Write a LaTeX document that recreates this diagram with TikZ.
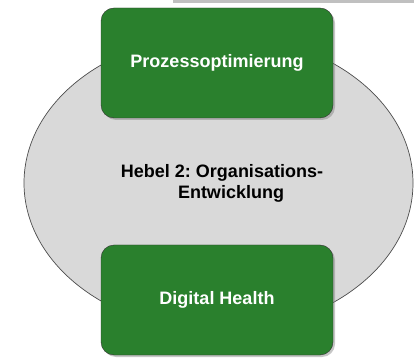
\documentclass[tikz,border=0pt]{standalone}
\usepackage{fontspec}
\setmainfont{Liberation Sans}
\usepackage{tikz}
\usetikzlibrary{positioning,shapes.geometric,shadows}

\definecolor{hebelgreen}{RGB}{42,128,45}
\definecolor{hebelgray}{RGB}{217,217,217}
\definecolor{bargray}{RGB}{192,192,192}
\frenchspacing

\begin{document}
\begin{tikzpicture}[x=1pt, y=1pt,
  greenbox/.style={draw=black!80, fill=hebelgreen, rounded corners=13pt,
    minimum width=232pt, minimum height=110pt, text=white,
    font=\bfseries\fontsize{18}{21}\selectfont,
    drop shadow={shadow xshift=2pt, shadow yshift=-2pt, opacity=0.45}},
  ring/.style={ellipse, draw=black!70, fill=hebelgray, line width=0.7pt,
    minimum width=389pt, minimum height=296pt, inner sep=0pt}]
\useasboundingbox (0,0) rectangle (414,358);

% top bar
\fill[bargray] (173,355) rectangle (414,358);

% ellipse (middle)
\node[ring] (hebel) at (218.5,175) {};
\node[align=center, font=\bfseries\fontsize{18}{21}\selectfont] (hebeltext) at (222,175)
  {Hebel 2: Organisations-\\\hspace*{18pt}Entwicklung};

% green boxes
\node[greenbox] (prozess) at (217,295) {Prozessoptimierung};
\node[greenbox] (digital) at (217,58) {Digital Health};
\end{tikzpicture}
\end{document}
